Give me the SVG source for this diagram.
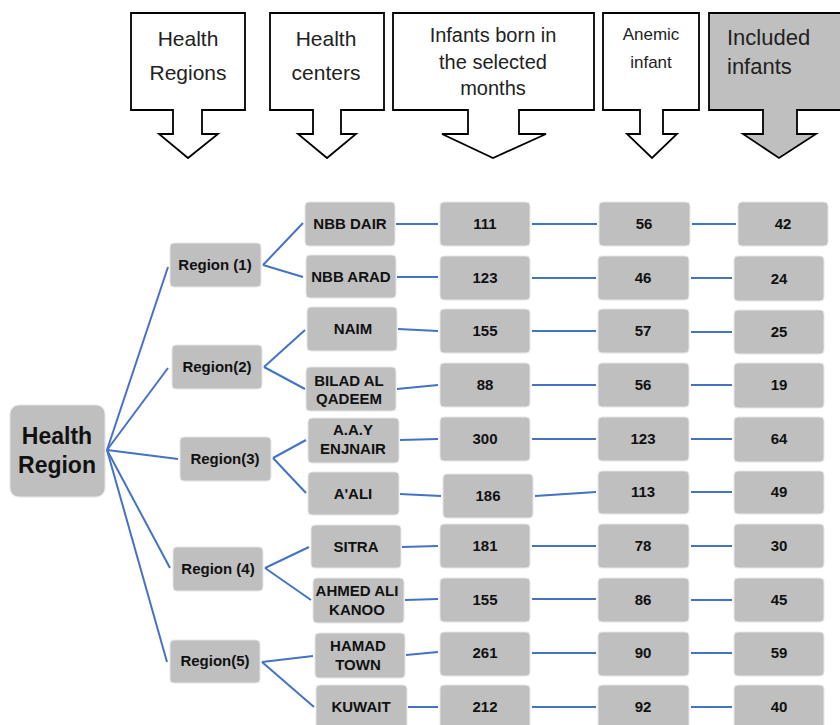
<svg xmlns="http://www.w3.org/2000/svg" width="840" height="725" viewBox="0 0 840 725">
<style>
.hdr{fill:#fff;stroke:#000;stroke-width:1.8;stroke-linejoin:miter}
.hdrg{fill:#bfbfbf;stroke:#000;stroke-width:1.8}
.ht{font-family:"Liberation Sans",Arial,sans-serif;fill:#222;text-anchor:middle}
.box{fill:#bfbfbf;stroke:#e6e6e6;stroke-width:1}
.bt{font-family:"Liberation Sans",Arial,sans-serif;font-weight:bold;font-size:15px;fill:#111;text-anchor:middle}
.c{stroke:#4472c4;stroke-width:2;fill:none}
</style>
<rect width="840" height="725" fill="#fff"/>
<g id="header-health-regions">
<path class="hdr" d="M131,13 H245 V110 H202 V134 H218 L188,158 L159,134 H173 V110 H131 Z"/>
<text class="ht" x="188" y="46" font-size="21">Health</text>
<text class="ht" x="188" y="80" font-size="21">Regions</text>
</g>
<g id="header-health-centers">
<path class="hdr" d="M270,13 H384 V110 H341 V134 H356 L327,158 L298,134 H313 V110 H270 Z"/>
<text class="ht" x="326" y="46" font-size="21">Health</text>
<text class="ht" x="326" y="80" font-size="21">centers</text>
</g>
<g id="header-infants-born">
<path class="hdr" d="M393,13 H594 V110 H519 V134 H546 L493,158 L442,134 H468 V110 H393 Z"/>
<text class="ht" x="493" y="42" font-size="20">Infants born in</text>
<text class="ht" x="493" y="69" font-size="20">the selected</text>
<text class="ht" x="493" y="95" font-size="20">months</text>
</g>
<g id="header-anemic">
<path class="hdr" d="M603,13 H699 V110 H663 V134 H677 L652,158 L627,134 H640 V110 H603 Z"/>
<text class="ht" x="651" y="40" font-size="17">Anemic</text>
<text class="ht" x="651" y="68" font-size="17">infant</text>
</g>
<g id="header-included">
<path class="hdrg" d="M709,13 H842 V110 H797 V134 H816 L779,158 L743,134 H763 V110 H709 Z"/>
<text class="ht" x="727" y="45" font-size="22" text-anchor="start" style="text-anchor:start">Included</text>
<text class="ht" x="727" y="74" font-size="22" style="text-anchor:start">infants</text>
</g>

<g id="connectors">
<line class="c" x1="107" y1="450" x2="168" y2="267"/>
<line class="c" x1="107" y1="450" x2="168" y2="368"/>
<line class="c" x1="107" y1="450" x2="178" y2="459"/>
<line class="c" x1="107" y1="450" x2="170" y2="568"/>
<line class="c" x1="107" y1="450" x2="167" y2="662"/>
<line class="c" x1="263" y1="265" x2="303" y2="223"/>
<line class="c" x1="263" y1="265" x2="303" y2="277"/>
<line class="c" x1="264" y1="367" x2="305" y2="330"/>
<line class="c" x1="264" y1="367" x2="305" y2="389"/>
<line class="c" x1="273" y1="458" x2="306" y2="440"/>
<line class="c" x1="273" y1="458" x2="306" y2="493"/>
<line class="c" x1="265" y1="568" x2="309" y2="547"/>
<line class="c" x1="265" y1="568" x2="311" y2="600"/>
<line class="c" x1="262" y1="662" x2="313" y2="656"/>
<line class="c" x1="262" y1="662" x2="314" y2="707"/>
<line class="c" x1="396" y1="224" x2="438" y2="224"/>
<line class="c" x1="397" y1="277" x2="438" y2="277"/>
<line class="c" x1="398" y1="329" x2="438" y2="331"/>
<line class="c" x1="397" y1="389" x2="438" y2="385"/>
<line class="c" x1="400" y1="440" x2="438" y2="439"/>
<line class="c" x1="400" y1="494" x2="441" y2="496"/>
<line class="c" x1="402" y1="547" x2="438" y2="546"/>
<line class="c" x1="405" y1="600" x2="438" y2="599"/>
<line class="c" x1="406" y1="655" x2="438" y2="652"/>
<line class="c" x1="408" y1="707" x2="438" y2="707"/>
<line class="c" x1="532" y1="224" x2="597" y2="224"/>
<line class="c" x1="532" y1="278" x2="596" y2="278"/>
<line class="c" x1="532" y1="331" x2="596" y2="331"/>
<line class="c" x1="532" y1="385" x2="596" y2="385"/>
<line class="c" x1="532" y1="439" x2="596" y2="439"/>
<line class="c" x1="535" y1="496" x2="596" y2="492"/>
<line class="c" x1="532" y1="546" x2="596" y2="546"/>
<line class="c" x1="532" y1="599" x2="596" y2="599"/>
<line class="c" x1="532" y1="653" x2="596" y2="653"/>
<line class="c" x1="532" y1="707" x2="596" y2="707"/>
<line class="c" x1="692" y1="224" x2="736" y2="224"/>
<line class="c" x1="691" y1="278" x2="732" y2="278"/>
<line class="c" x1="691" y1="332" x2="732" y2="332"/>
<line class="c" x1="691" y1="385" x2="732" y2="385"/>
<line class="c" x1="691" y1="439" x2="732" y2="439"/>
<line class="c" x1="691" y1="492" x2="732" y2="492"/>
<line class="c" x1="691" y1="546" x2="732" y2="546"/>
<line class="c" x1="691" y1="600" x2="732" y2="600"/>
<line class="c" x1="691" y1="653" x2="732" y2="653"/>
<line class="c" x1="691" y1="707" x2="732" y2="707"/>
</g>

<g id="root">
<rect class="box" x="10" y="405" width="95" height="92" rx="9"/>
<text class="bt" x="57" y="444" font-size="23" style="font-size:23px">Health</text>
<text class="bt" x="57" y="473" style="font-size:23px">Region</text>
</g>

<g id="region1"><rect class="box" x="170" y="243" width="91" height="44" rx="4"/><text class="bt" x="215" y="270">Region (1)</text></g>
<g id="region2"><rect class="box" x="172" y="345" width="90" height="44" rx="4"/><text class="bt" x="217" y="372">Region(2)</text></g>
<g id="region3"><rect class="box" x="180" y="437" width="91" height="44" rx="4"/><text class="bt" x="225" y="464">Region(3)</text></g>
<g id="region4"><rect class="box" x="173" y="547" width="90" height="44" rx="4"/><text class="bt" x="218" y="574">Region (4)</text></g>
<g id="region5"><rect class="box" x="170" y="640" width="90" height="43" rx="4"/><text class="bt" x="215" y="666">Region(5)</text></g>

<g id="c-nbb-dair"><rect class="box" x="305" y="202" width="90" height="44" rx="4"/><text class="bt" x="350" y="229">NBB DAIR</text></g>
<g id="c-nbb-arad"><rect class="box" x="306" y="255" width="90" height="43" rx="4"/><text class="bt" x="351" y="282">NBB ARAD</text></g>
<g id="c-naim"><rect class="box" x="307" y="307" width="90" height="44" rx="4"/><text class="bt" x="353" y="334">NAIM</text></g>
<g id="c-bilad"><rect class="box" x="306" y="367" width="90" height="44" rx="4"/><text class="bt" x="349" y="386">BILAD AL</text><text class="bt" x="349" y="404">QADEEM</text></g>
<g id="c-aay"><rect class="box" x="308" y="418" width="91" height="45" rx="4"/><text class="bt" x="353" y="435">A.A.Y</text><text class="bt" x="353" y="454">ENJNAIR</text></g>
<g id="c-aali"><rect class="box" x="308" y="472" width="91" height="43" rx="4"/><text class="bt" x="353" y="499">A'ALI</text></g>
<g id="c-sitra"><rect class="box" x="311" y="525" width="90" height="43" rx="4"/><text class="bt" x="356" y="552">SITRA</text></g>
<g id="c-ahmed"><rect class="box" x="313" y="578" width="91" height="45" rx="4"/><text class="bt" x="357" y="596">AHMED ALI</text><text class="bt" x="357" y="615">KANOO</text></g>
<g id="c-hamad"><rect class="box" x="315" y="633" width="90" height="45" rx="4"/><text class="bt" x="358" y="651">HAMAD</text><text class="bt" x="358" y="670">TOWN</text></g>
<g id="c-kuwait"><rect class="box" x="316" y="685" width="91" height="44" rx="4"/><text class="bt" x="361" y="712">KUWAIT</text></g>

<g id="b1"><rect class="box" x="440" y="202" width="90" height="44" rx="4"/><text class="bt" x="485" y="229">111</text></g>
<g id="b2"><rect class="box" x="440" y="256" width="90" height="44" rx="4"/><text class="bt" x="485" y="283">123</text></g>
<g id="b3"><rect class="box" x="440" y="309" width="90" height="44" rx="4"/><text class="bt" x="485" y="336">155</text></g>
<g id="b4"><rect class="box" x="440" y="363" width="90" height="44" rx="4"/><text class="bt" x="485" y="390">88</text></g>
<g id="b5"><rect class="box" x="440" y="417" width="90" height="44" rx="4"/><text class="bt" x="485" y="444">300</text></g>
<g id="b6"><rect class="box" x="443" y="474" width="90" height="44" rx="4"/><text class="bt" x="488" y="501">186</text></g>
<g id="b7"><rect class="box" x="440" y="524" width="90" height="44" rx="4"/><text class="bt" x="485" y="551">181</text></g>
<g id="b8"><rect class="box" x="440" y="578" width="90" height="44" rx="4"/><text class="bt" x="485" y="605">155</text></g>
<g id="b9"><rect class="box" x="440" y="632" width="90" height="44" rx="4"/><text class="bt" x="485" y="658">261</text></g>
<g id="b10"><rect class="box" x="440" y="685" width="90" height="44" rx="4"/><text class="bt" x="485" y="712">212</text></g>

<g id="a1"><rect class="box" x="599" y="202" width="91" height="44" rx="4"/><text class="bt" x="644" y="229">56</text></g>
<g id="a2"><rect class="box" x="598" y="256" width="91" height="44" rx="4"/><text class="bt" x="643" y="283">46</text></g>
<g id="a3"><rect class="box" x="598" y="309" width="91" height="44" rx="4"/><text class="bt" x="643" y="336">57</text></g>
<g id="a4"><rect class="box" x="598" y="363" width="91" height="44" rx="4"/><text class="bt" x="643" y="390">56</text></g>
<g id="a5"><rect class="box" x="598" y="417" width="91" height="44" rx="4"/><text class="bt" x="643" y="444">123</text></g>
<g id="a6"><rect class="box" x="598" y="471" width="91" height="43" rx="4"/><text class="bt" x="643" y="497">113</text></g>
<g id="a7"><rect class="box" x="598" y="524" width="91" height="44" rx="4"/><text class="bt" x="643" y="551">78</text></g>
<g id="a8"><rect class="box" x="598" y="578" width="91" height="44" rx="4"/><text class="bt" x="643" y="605">86</text></g>
<g id="a9"><rect class="box" x="598" y="632" width="91" height="44" rx="4"/><text class="bt" x="643" y="658">90</text></g>
<g id="a10"><rect class="box" x="598" y="685" width="91" height="44" rx="4"/><text class="bt" x="643" y="712">92</text></g>

<g id="i1"><rect class="box" x="738" y="202" width="90" height="44" rx="4"/><text class="bt" x="783" y="229">42</text></g>
<g id="i2"><rect class="box" x="734" y="256" width="90" height="45" rx="4"/><text class="bt" x="779" y="284">24</text></g>
<g id="i3"><rect class="box" x="734" y="310" width="90" height="44" rx="4"/><text class="bt" x="779" y="337">25</text></g>
<g id="i4"><rect class="box" x="734" y="363" width="90" height="45" rx="4"/><text class="bt" x="779" y="390">19</text></g>
<g id="i5"><rect class="box" x="734" y="417" width="90" height="45" rx="4"/><text class="bt" x="779" y="444">64</text></g>
<g id="i6"><rect class="box" x="734" y="471" width="90" height="43" rx="4"/><text class="bt" x="779" y="497">49</text></g>
<g id="i7"><rect class="box" x="734" y="524" width="90" height="44" rx="4"/><text class="bt" x="779" y="551">30</text></g>
<g id="i8"><rect class="box" x="734" y="578" width="90" height="44" rx="4"/><text class="bt" x="779" y="605">45</text></g>
<g id="i9"><rect class="box" x="734" y="632" width="90" height="44" rx="4"/><text class="bt" x="779" y="658">59</text></g>
<g id="i10"><rect class="box" x="734" y="685" width="90" height="44" rx="4"/><text class="bt" x="779" y="712">40</text></g>
</svg>
